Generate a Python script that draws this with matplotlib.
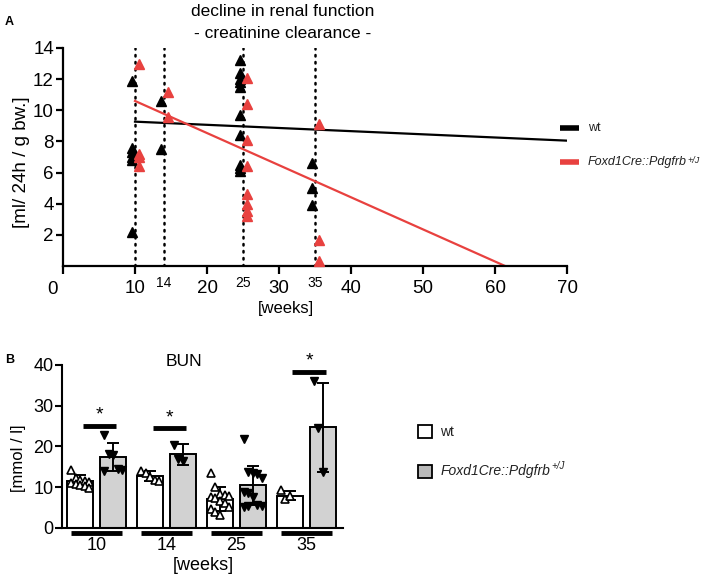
import numpy as np
import matplotlib
matplotlib.use('Agg')
import matplotlib.pyplot as plt
from matplotlib.lines import Line2D
from matplotlib.patches import Rectangle
from matplotlib.transforms import blended_transform_factory

plt.rcParams['font.family'] = ['Liberation Sans', 'DejaVu Sans']

# ---------------- Panel A data (creatinine clearance) ----------------
weeks_a = [10, 14, 25, 35]
wt_clear = [
    [11.9, 7.6, 7.3, 7.0, 6.8, 2.2],
    [10.6, 7.5],
    [13.2, 12.4, 12.0, 11.8, 11.5, 9.7, 8.4, 6.5, 6.3, 6.1],
    [6.6, 5.0, 3.9],
]
mut_clear = [
    [13.0, 7.2, 7.0, 6.4],
    [11.2, 9.6],
    [12.1, 10.4, 8.1, 6.4, 4.6, 4.0, 3.5, 3.2],
    [9.1, 1.7, 0.3],
]
wt_fit_weeks = [10, 70]
wt_fit_vals = [9.27, 8.05]
mut_fit_weeks = [10, 61.4]
mut_fit_vals = [10.6, 0.0]
xticks_a = [0, 10, 20, 30, 40, 50, 60, 70]
yticks_a = [2, 4, 6, 8, 10, 12, 14]

# ---------------- Panel B data (BUN) ----------------
bun_weeks = ['10', '14', '25', '35']
wt_bun_mean = [11.5, 12.7, 7.1, 7.9]
wt_bun_sd = [1.5, 1.3, 3.0, 1.1]
mut_bun_mean = [17.4, 18.0, 10.4, 24.7]
mut_bun_sd = [3.4, 2.5, 4.8, 10.9]
wt_bun_pts = [
    [14.3, 12.3, 11.8, 11.5, 11.2, 11.0, 10.8, 10.5, 10.2, 9.8],
    [14.0, 13.5, 12.5, 11.8, 11.5],
    [13.5, 10.0, 8.2, 8.0, 7.8, 7.5, 7.2, 6.5, 6.0, 5.2, 4.5, 3.8, 3.0],
    [9.2, 7.0, 7.8],
]
mut_bun_pts = [
    [22.8, 18.2, 17.9, 14.5, 14.3, 14.0],
    [20.4, 16.8, 16.5],
    [21.7, 13.8, 13.5, 13.2, 12.3, 8.8, 8.6, 7.6, 5.5, 5.3, 5.2, 5.4],
    [36.0, 24.5, 13.7],
]
sig_groups = [0, 1, 3]
sig_heights = [25.0, 24.4, 38.3]

W, H = 709, 578
fig = plt.figure(figsize=(W / 100, H / 100), dpi=100)


def fx(px):
    return px / W


def fy(py):
    return 1 - py / H


RED = '#e8413f'

# ================= Panel A =================
axA = fig.add_axes([fx(63), fy(266), fx(567) - fx(63), fy(48) - fy(266)])
axA.set_xlim(0, 70)
axA.set_ylim(0, 14)
for s in ['top', 'right']:
    axA.spines[s].set_visible(False)
for s in ['left', 'bottom']:
    axA.spines[s].set_linewidth(1.6)

for w in weeks_a:
    axA.plot([w, w], [0, 14], color='black', lw=1.8,
             linestyle=(0, (0.6, 2.2)), dash_capstyle='round', zorder=1)

for w, vals in zip(weeks_a, wt_clear):
    axA.plot([w - 0.45] * len(vals), vals, linestyle='none', marker='^',
             ms=7.5, color='black', clip_on=False, zorder=3)
for w, vals in zip(weeks_a, mut_clear):
    axA.plot([w + 0.6] * len(vals), vals, linestyle='none', marker='^',
             ms=7.5, color=RED, clip_on=False, zorder=3)

axA.plot(wt_fit_weeks, wt_fit_vals, color='black', lw=1.6, zorder=2)
axA.plot(mut_fit_weeks, mut_fit_vals, color=RED, lw=1.6, zorder=2)

axA.set_yticks(yticks_a)
axA.set_yticklabels([str(v) for v in yticks_a], fontsize=13.5)
axA.set_xticks(xticks_a)
axA.set_xticklabels([''] + [str(v) for v in xticks_a[1:]], fontsize=13.5)
axA.set_xticks([14, 25, 35], minor=True)
axA.set_xticklabels(['14', '25', '35'], minor=True, fontsize=10)
axA.tick_params(axis='y', which='major', direction='out', length=5,
                width=1.6, pad=1.5)
axA.tick_params(axis='x', which='major', direction='out', length=6,
                width=1.6, pad=4)
axA.tick_params(axis='x', which='minor', length=0, pad=7)
axA.text(-1.45, -0.95, '0', fontsize=13.5, ha='center', va='top')

fig.text(fx(22), fy(162), '[ml/ 24h / g bw.]', rotation=90, fontsize=13.5,
         ha='center', va='center')
fig.text(fx(286), fy(309), '[weeks]', fontsize=12, ha='center', va='center')
fig.text(fx(283), fy(12), 'decline in renal function', fontsize=12.5,
         ha='center', va='center')
fig.text(fx(283), fy(33), '- creatinine clearance -', fontsize=12.5,
         ha='center', va='center')
fig.text(fx(5), fy(22), 'A', fontsize=9, fontweight='bold', ha='left',
         va='center')

# legend A
fig.add_artist(Line2D([fx(560), fx(579)], [fy(128), fy(128)], color='black',
                      lw=4, solid_capstyle='butt'))
fig.add_artist(Line2D([fx(560), fx(579)], [fy(162), fy(162)], color=RED,
                      lw=4, solid_capstyle='butt'))
fig.text(fx(588), fy(128), 'wt', fontsize=9, ha='left', va='center',
         color='#222222')
tA = fig.text(fx(588), fy(162), 'Foxd1Cre::Pdgfrb', fontsize=9,
              style='italic', ha='left', va='center', color='#222222')
fig.canvas.draw()
bb = tA.get_window_extent()
fig.text(bb.x1 / W, fy(161), '+/J', fontsize=6.5, style='italic',
         ha='left', va='center', color='#222222')

# ================= Panel B =================
axB = fig.add_axes([fx(61.7), fy(527.7), fx(342.7) - fx(61.7),
                    fy(365) - fy(527.7)])
axB.set_xlim(-0.5, 3.52)
axB.set_ylim(0, 40)
for s in ['top', 'right']:
    axB.spines[s].set_visible(False)
for s in ['left', 'bottom']:
    axB.spines[s].set_linewidth(1.5)

x = np.arange(len(bun_weeks))
off = 0.235
bw = 0.37
axB.bar(x - off, wt_bun_mean, bw, color='white', edgecolor='black',
        linewidth=1.4, zorder=2)
axB.bar(x + off, mut_bun_mean, bw, color='#d2d2d2', edgecolor='black',
        linewidth=1.4, zorder=2)
axB.errorbar(x - off, wt_bun_mean, yerr=wt_bun_sd, fmt='none',
             ecolor='black', elinewidth=1.4, capsize=4.5, capthick=1.4,
             zorder=4)
axB.errorbar(x + off, mut_bun_mean, yerr=mut_bun_sd, fmt='none',
             ecolor='black', elinewidth=1.4, capsize=4.5, capthick=1.4,
             zorder=4)


def spread(n):
    k = np.arange(n)
    return ((k % 5) - 2) * 0.065


for i, vals in enumerate(wt_bun_pts):
    axB.plot(x[i] - off + spread(len(vals)), vals, linestyle='none',
             marker='^', ms=6, mfc='white', mec='black', mew=1.2, zorder=5)
for i, vals in enumerate(mut_bun_pts):
    axB.plot(x[i] + off + spread(len(vals)), vals, linestyle='none',
             marker='v', ms=6, color='black', zorder=5)

for g, h in zip(sig_groups, sig_heights):
    axB.plot([x[g] - 0.2, x[g] + 0.28], [h, h], color='black', lw=3.5,
             solid_capstyle='butt', zorder=5)
    axB.text(x[g] + 0.04, h + 0.6, '*', fontsize=14, ha='center',
             va='bottom')

axB.set_yticks([0, 10, 20, 30, 40])
axB.set_yticklabels(['0', '10', '20', '30', '40'], fontsize=13)
axB.tick_params(axis='y', direction='out', length=5, width=1.5, pad=1)
axB.set_xticks([])
trB = blended_transform_factory(axB.transData, axB.transAxes)
for i, lab in enumerate(bun_weeks):
    axB.plot([x[i] - 0.36, x[i] + 0.36], [-0.033, -0.033], transform=trB,
             color='black', lw=3.5, solid_capstyle='butt', clip_on=False)
    fig.text(fx(96.5 + 70 * i), fy(546), lab, fontsize=13, ha='center',
             va='center')
fig.text(fx(203), fy(566), '[weeks]', fontsize=13, ha='center', va='center')
fig.text(fx(18), fy(458), '[mmol / l]', rotation=90, fontsize=12,
         ha='center', va='center')
fig.text(fx(184), fy(362), 'BUN', fontsize=12.5, ha='center', va='center')
fig.text(fx(5), fy(360), 'B', fontsize=9, fontweight='bold', ha='left',
         va='center')

# legend B
fig.add_artist(Rectangle((fx(418), fy(438)), fx(14), 13 / H,
                         facecolor='white', edgecolor='black', lw=1.3))
fig.add_artist(Rectangle((fx(418), fy(478)), fx(14), 13 / H,
                         facecolor='#b9b9b9', edgecolor='black', lw=1.3))
fig.text(fx(440), fy(432), 'wt', fontsize=10, ha='left', va='center',
         color='#222222')
tB = fig.text(fx(441), fy(471), 'Foxd1Cre::Pdgfrb', fontsize=10,
              style='italic', ha='left', va='center', color='#222222')
fig.canvas.draw()
bb = tB.get_window_extent()
fig.text(bb.x1 / W + 0.001, fy(466), '+/J', fontsize=7, style='italic',
         ha='left', va='center', color='#222222')

fig.savefig('out.png', dpi=100)
